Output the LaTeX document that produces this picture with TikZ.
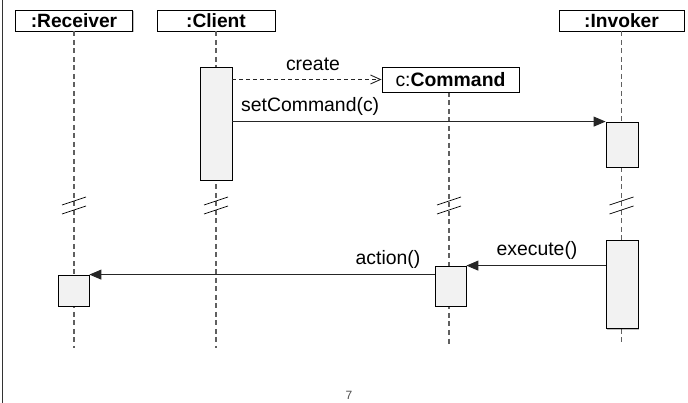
\documentclass[tikz,border=0pt]{standalone}
\usepackage{fontspec}
\setmainfont{Liberation Sans}
\usetikzlibrary{arrows.meta,shadows,calc}
\definecolor{actfill}{HTML}{F2F2F2}
\definecolor{lifegray}{HTML}{606060}
\begin{document}
\begin{tikzpicture}[x=1pt,y=-1pt,
  shad/.style={drop shadow={shadow xshift=1pt,shadow yshift=-1.5pt,fill=black,opacity=0.25}},
  head/.style={draw,fill=white,line width=0.9pt,inner sep=0pt,minimum height=21pt,
    font=\fontsize{19.2}{20}\selectfont\bfseries,shad},
  act/.style={draw,fill=actfill,line width=0.8pt,inner sep=0pt,shad},
  life/.style={draw=lifegray,line width=1.1pt,dash pattern=on 5pt off 3.5pt},
  brk/.style={draw=black,line width=0.7pt},
  lbl/.style={font=\fontsize{19.4}{21}\selectfont,inner sep=0pt},
  msg/.style={draw=black!85,line width=0.9pt,-{Triangle[length=12pt,width=10pt]}},
  cre/.style={draw=black!85,line width=0.9pt,dash pattern=on 4pt off 3pt,-{Straight Barb[length=10pt,width=9pt,line width=0.9pt]}}
]
\useasboundingbox (0,0) rectangle (688,403);
\draw[line width=1pt,black!80] (2.5,0) -- (2.5,403);

% heads
\node[head,minimum width=117pt] (rec) at (74,20.5) {:Receiver};
\node[head,minimum width=118pt] (cli) at (216,20.5) {:Client};
\node[head,minimum width=125pt] (inv) at (621.5,20.5) {:Invoker};

% lifeline ends
\coordinate (recend) at (74,348);
\coordinate (cliend) at (216,348);
\coordinate (cmdend) at (449,345);
\coordinate (invend) at (621.5,345);

% lifelines (behind)
\draw[life] (rec.south) -- (recend);
\draw[life] (cli.south) -- (cliend);
\draw[life] (inv.south) -- (invend);
\draw[life] (449,92) -- (cmdend);

% command head
\node[draw,fill=white,line width=0.9pt,inner sep=0pt,minimum width=137pt,minimum height=25pt,
  lbl,shad] (cmd) at (450.5,79.5) {c:\textbf{Command}};

% activations
\node[act,minimum width=32pt,minimum height=113pt] (cact) at (216,123.5) {};
\node[act,minimum width=32pt,minimum height=45pt] (inv1) at (622,144.5) {};
\node[act,minimum width=32pt,minimum height=88pt] (inv2) at (622,284) {};
\node[act,minimum width=31pt,minimum height=40pt] (cmdact) at (450.5,286) {};
\node[act,minimum width=31pt,minimum height=31pt] (recact) at (73.5,290.5) {};

% break marks
\foreach \n/\x in {rec/74,cli/216,cmd/449,inv/621.5}{
  \draw[brk] (\x-12,205) -- (\x+12,197);
  \draw[brk] (\x-12,214) -- (\x+12,206);
}

% messages
\draw[cre] (cact.east |- cmd.west) -- (cmd.west);
\draw[msg] (cact.east |- inv1.north west) -- (inv1.north west);
\draw[msg] (inv2.west |- cmdact.north east) -- (cmdact.north east);
\draw[msg] (cmdact.west |- recact.north east) -- (recact.north east);

% labels
\node[lbl,anchor=base] (lcreate) at (313,70.5) {create};
\node[lbl,anchor=base west] (lset) at (241,112) {setCommand(c)};
\node[lbl,anchor=base] (lexec) at (537,256) {execute()};
\node[lbl,anchor=base] (lact) at (388,265) {action()};

\node[font=\fontsize{12}{14}\selectfont,text=black!70,inner sep=0pt] (page) at (349,395) {7};
\end{tikzpicture}
\end{document}
